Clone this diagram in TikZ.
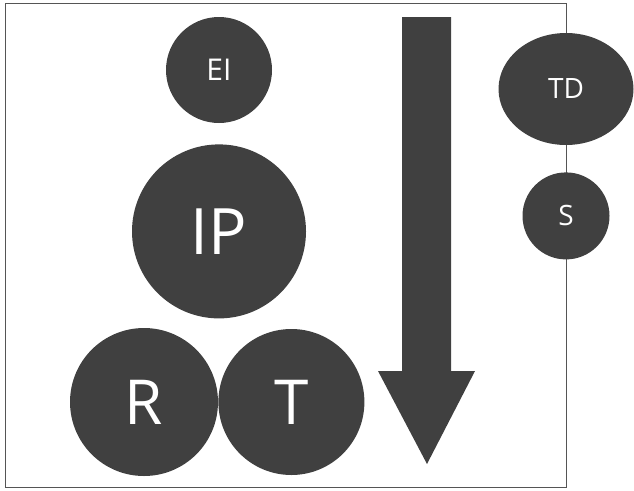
\documentclass[tikz,border=0pt]{standalone}
\usepackage{fontspec}
\setmainfont{Open Sans}
\usepackage{tikz}
\usetikzlibrary{positioning,shapes.geometric}

\definecolor{blobgray}{HTML}{404040}
\definecolor{framegray}{HTML}{555555}

\begin{document}
\begin{tikzpicture}[
    x=1pt, y=-1pt,
    blob/.style={circle, fill=blobgray, text=white, inner sep=0pt},
    oval/.style={ellipse, fill=blobgray, text=white, inner sep=0pt},
    rahmen/.style={draw=framegray, line width=0.9pt},
]
    \useasboundingbox (0,0) rectangle (634,490);
    % frame behind everything
    \draw[rahmen] (5,3) rectangle (566,487);
    \node[blob, minimum size=106pt, font=\fontsize{30}{30}\selectfont] (ei) at (219,70) {EI};
    \node[blob, minimum size=174pt, font=\fontsize{64}{64}\selectfont, below=21pt of ei] (ip) {IP};
    \node[blob, minimum size=148pt, font=\fontsize{62}{62}\selectfont] (r) at (144,402) {R};
    \node[blob, minimum size=146pt, font=\fontsize{62}{62}\selectfont, right=0pt of r] (t) {T};
    \node[oval, minimum width=135pt, minimum height=112pt, font=\fontsize{28}{28}\selectfont] (td) at (566,89) {TD};
    \node[blob, minimum size=87pt, font=\fontsize{28}{28}\selectfont, below=27pt of td] (s) {S};
    % big downward arrow
    \fill[blobgray] (402,17) -- (451,17) -- (451,371) -- (475,371) -- (427,464)
        -- (378,371) -- (402,371) -- cycle;
\end{tikzpicture}
\end{document}
